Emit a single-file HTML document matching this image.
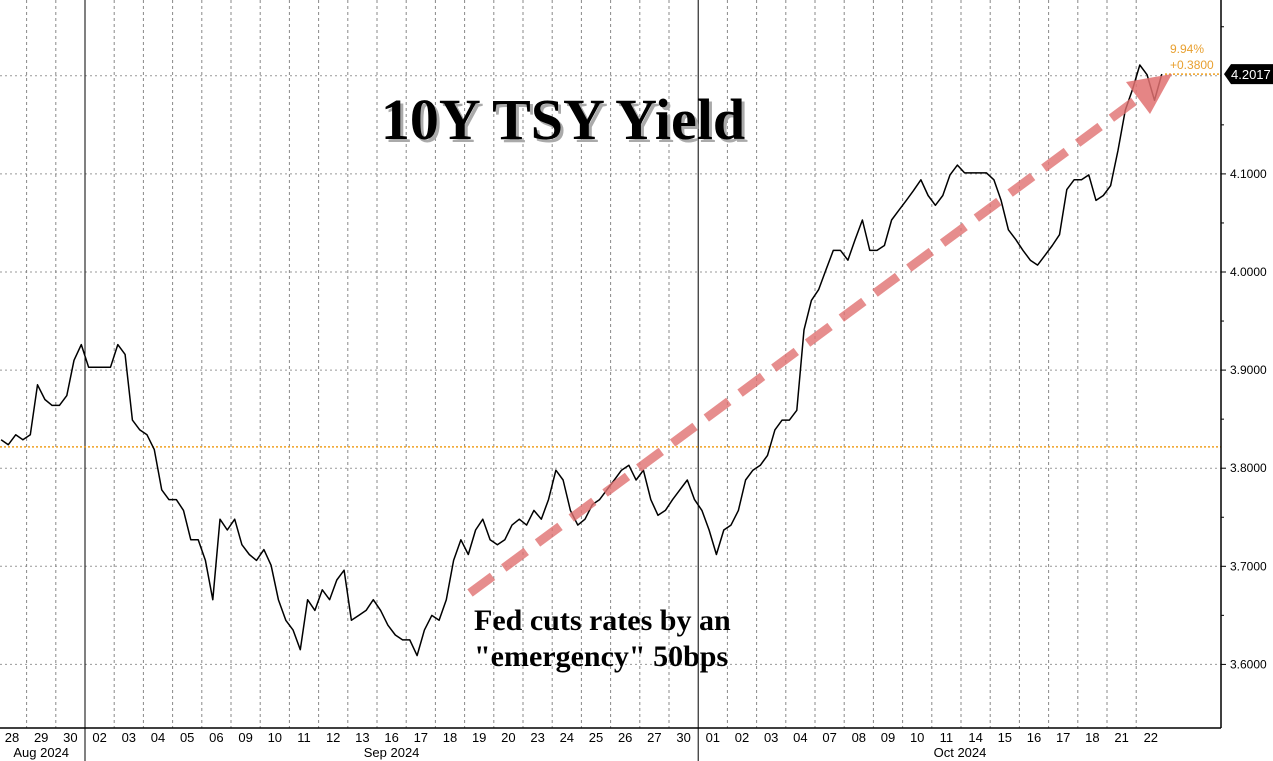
<!DOCTYPE html>
<html><head><meta charset="utf-8"><style>
html,body{margin:0;padding:0;background:#fff;}
svg{display:block;font-family:"Liberation Sans",sans-serif;}
</style></head><body>
<svg id="c" width="1273" height="761"></svg>
<script>
const dayLabels=["28","29","30","02","03","04","05","06","09","10","11","12","13","16","17","18","19","20","23","24","25","26","27","30","01","02","03","04","07","08","09","10","11","14","15","16","17","18","21","22"];
const monthLabels=["Aug 2024","Sep 2024","Oct 2024"];
const monthStarts=[0,3,24];
const yTicks=[3.6,3.7,3.8,3.9,4.0,4.1];
const yields=[
3.829,3.824,3.834,3.829, 3.834,3.885,3.870,3.864, 3.864,3.874,3.910,3.926, 3.903,3.903,3.903,3.903,
3.926,3.916,3.849,3.839, 3.834,3.819,3.778,3.768, 3.768,3.757,3.727,3.727, 3.706,3.666,3.748,3.737,
3.748,3.722,3.712,3.706, 3.717,3.701,3.666,3.645, 3.635,3.615,3.666,3.655, 3.676,3.666,3.686,3.696,
3.645,3.650,3.655,3.666, 3.655,3.640,3.630,3.625, 3.625,3.609,3.635,3.650, 3.645,3.666,3.706,3.727,
3.712,3.737,3.748,3.727, 3.722,3.727,3.742,3.748, 3.742,3.757,3.748,3.768, 3.798,3.788,3.757,3.742,
3.748,3.763,3.768,3.778, 3.788,3.798,3.803,3.788, 3.798,3.768,3.752,3.757, 3.768,3.778,3.788,3.768,
3.757,3.737,3.712,3.737, 3.742,3.757,3.788,3.798, 3.803,3.813,3.839,3.849, 3.849,3.859,3.941,3.971,
3.982,4.002,4.022,4.022, 4.012,4.033,4.053,4.022, 4.022,4.027,4.053,4.063, 4.073,4.083,4.094,4.078,
4.068,4.078,4.099,4.109, 4.101,4.101,4.101,4.101, 4.094,4.073,4.043,4.033, 4.022,4.012,4.007,4.017,
4.027,4.038,4.084,4.094, 4.094,4.099,4.073,4.078, 4.088,4.124,4.165,4.186, 4.211,4.201,4.175,4.2017];
const lastValue=4.2017, refLevel=3.8217, pctChange="9.94%", netChange="+0.3800";
const perDay=4;
const NS="http://www.w3.org/2000/svg";
const svg=document.getElementById('c');
const X=d=>12+d*29.2;
const Y=v=>272-(v-4.0)*981;
const PR=1221, PB=728;
function el(t,a,p){const e=document.createElementNS(NS,t);for(const k in a)e.setAttribute(k,a[k]);(p||svg).appendChild(e);return e;}
yTicks.concat([4.2]).forEach(v=>{
 const g=el('line',{x1:0,x2:PR,y1:Y(v),y2:Y(v),stroke:'#999','stroke-width':1,'stroke-dasharray':'2,3'});
 
 
});
for(let i=1;i<dayLabels.length;i++){
 const x=X(i-0.5);
 const solid=monthStarts.includes(i);
 const g=el('line',{x1:x,x2:x,y1:0,y2:solid?761:PB,stroke:solid?'#000':'#888','stroke-width':1,'stroke-dasharray':solid?'':'3,3'});
 
 
}
const rl=el('line',{x1:0,x2:PR,y1:Y(refLevel),y2:Y(refLevel),stroke:'#f0a020','stroke-width':1.5,'stroke-dasharray':'2,2'});


const ll=el('line',{x1:1165,x2:PR,y1:Y(lastValue),y2:Y(lastValue),stroke:'#f0a020','stroke-width':1.5,'stroke-dasharray':'2,2'});


const pts=yields.map((v,k)=>{const d=Math.floor(k/perDay)+((k%perDay)+0.5)/perDay-0.5;return X(d).toFixed(1)+','+Y(v).toFixed(1);});
const line=el('polyline',{points:pts.join(' '),fill:'none',stroke:'#000','stroke-width':1.5,'stroke-linejoin':'round'});


const ax=el('line',{x1:0,x2:PR,y1:PB,y2:PB,stroke:'#000','stroke-width':1.5});


const ay=el('line',{x1:PR,x2:PR,y1:0,y2:PB,stroke:'#000','stroke-width':1.5});


yTicks.forEach(v=>{
 const t=el('line',{x1:PR,x2:PR+5,y1:Y(v),y2:Y(v),stroke:'#000'});
 
 
 const tx=el('text',{x:1230,y:Y(v)+4,'font-size':12,fill:'#000'});
 tx.textContent=v.toFixed(4);
 
 
});
[3.65,3.75,3.85,3.95,4.05,4.15,4.25].forEach(v=>{el('line',{x1:PR,x2:PR+3,y1:Y(v),y2:Y(v),stroke:'#000'});});
dayLabels.forEach((d,i)=>{
 const t=el('text',{x:X(i),y:742,'font-size':13,'text-anchor':'middle',fill:'#000'});
 t.textContent=d;
 
 
});
monthLabels.forEach((m,j)=>{
 const s=monthStarts[j], e=(j+1<monthStarts.length?monthStarts[j+1]:dayLabels.length)-1;
 const t=el('text',{x:j==2?960:(X(s)+X(e))/2,y:757,'font-size':13,'text-anchor':'middle',fill:'#000'});
 t.textContent=m;
 
 
});
const b=el('path',{d:`M${PR+3},${Y(lastValue)} l7,-10 h53 v20 h-53 z`,fill:'#000'});


const bt=el('text',{x:1231,y:Y(lastValue)+5,'font-size':13,fill:'#fff'});
bt.textContent=lastValue.toFixed(4);


const p1=el('text',{x:1170,y:53,'font-size':12,fill:'#e8a030'});p1.textContent=pctChange;


const p2=el('text',{x:1170,y:69,'font-size':12,fill:'#e8a030'});p2.textContent=netChange;


const ar=el('line',{x1:470,y1:593,x2:1140,y2:97,stroke:'#e07070','stroke-opacity':0.8,'stroke-width':9,'stroke-dasharray':'28,14'});


const ah=el('polygon',{points:'1172,74 1126,82 1150,114',fill:'#e07070','fill-opacity':0.85});


const ts=el('text',{x:566,y:142,'font-size':58,'font-weight':'bold','text-anchor':'middle',fill:'#aaa','font-family':'Liberation Serif, serif'});
ts.textContent='10Y TSY Yield';


const tt=el('text',{x:563,y:139,'font-size':58,'font-weight':'bold','text-anchor':'middle',fill:'#000','font-family':'Liberation Serif, serif'});
tt.textContent='10Y TSY Yield';


['Fed cuts rates by an','"emergency" 50bps'].forEach((s,i)=>{
 const a=el('text',{x:474,y:630+i*36,'font-size':30,'font-weight':'bold',fill:'#000','font-family':'Liberation Serif, serif'});
 a.textContent=s;
 
 
});
</script>
</body></html>
